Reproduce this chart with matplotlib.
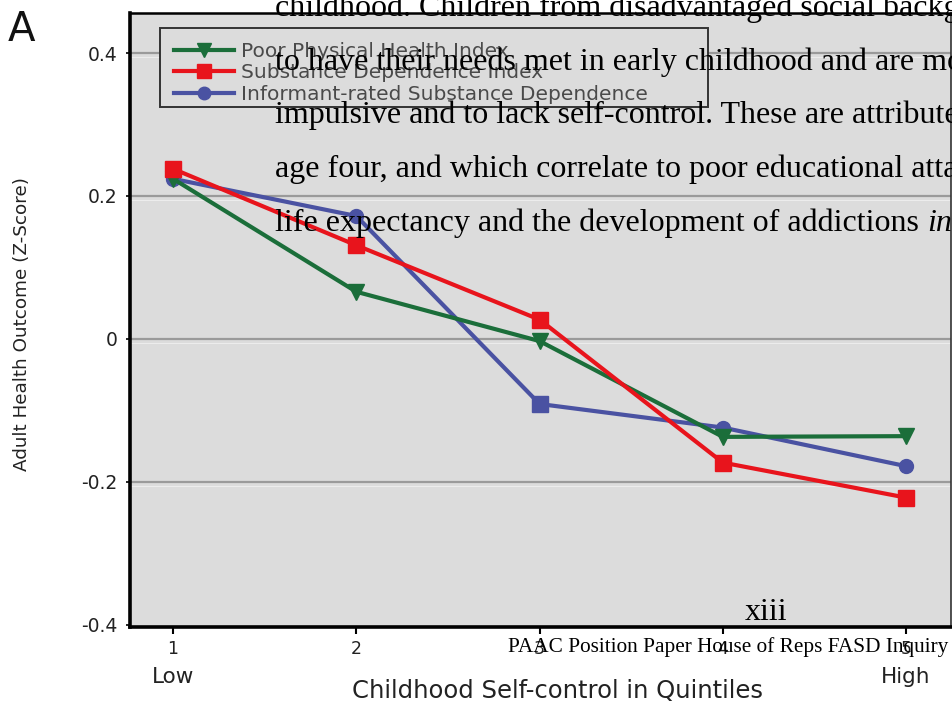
import matplotlib
matplotlib.use("Agg")
import matplotlib.pyplot as plt
from matplotlib.lines import Line2D
from matplotlib.patches import Rectangle

# Quintiles of childhood self-control
quintiles = [1, 2, 3, 4, 5]
quintile_ends = ["Low", "High"]

# Adult health outcomes (z-scores) per quintile
poor_physical_health = [0.224, 0.066, -0.003, -0.137, -0.136]
substance_dependence = [0.238, 0.131, 0.027, -0.173, -0.222]
informant_substance = [0.224, 0.172, -0.091, -0.124, -0.178]
informant_markers = ["o", "o", "s", "o", "o"]

series_labels = ["Poor Physical Health Index",
                 "Substance Dependence Index",
                 "Informant-rated Substance Dependence"]

y_ticks = [-0.4, -0.2, 0, 0.2, 0.4]
y_tick_labels = ["-0.4", "-0.2", "0", "0.2", "0.4"]

# Body text of the surrounding document page
page_lines = [
    "childhood. Children from disadvantaged social backgrounds",
    "to have their needs met in early childhood and are more",
    "impulsive and to lack self-control. These are attributes",
    "age four, and which correlate to poor educational attainment",
    "life expectancy and the development of addictions ",
]
page_italic_tail = "in"
page_number = "xiii"
page_footer = "PAAC Position Paper House of Reps FASD Inquiry"

GREEN = "#1b6e3a"
RED = "#e8141c"
BLUE = "#4a52a2"
BG = "#dcdcdc"
SANS = "DejaVu Sans"
SERIF = "Liberation Serif"
INK = "#222222"

W, H = 953, 705
fig = plt.figure(figsize=(W / 100, H / 100), dpi=100)
fig.patch.set_facecolor("white")

ax = fig.add_axes([130 / W, 1 - 627 / H, (951 - 130) / W, (627 - 13) / H])
ax.set_facecolor(BG)
ax.set_xlim(0.765, 5.245)
ax.set_ylim(-0.403, 0.456)

for yv in y_ticks[1:]:
    ax.axhline(yv, color="#9a9a9a", lw=1.6, zorder=1)
    ax.axhline(yv - 0.006, color="#ececec", lw=0.8, zorder=1)

lw = 3.0
ax.plot(quintiles, poor_physical_health, color=GREEN, lw=lw, marker="v",
        ms=11, zorder=3)
ax.plot(quintiles, substance_dependence, color=RED, lw=lw, marker="s",
        ms=11, zorder=4)
ax.plot(quintiles, informant_substance, color=BLUE, lw=lw, zorder=2)
for xq, yq, mk in zip(quintiles, informant_substance, informant_markers):
    ax.plot([xq], [yq], color=BLUE, marker=mk, ms=10 if mk == "o" else 11,
            ls="none", zorder=2)

ax.set_xticks(quintiles)
ax.set_xticklabels([str(q) for q in quintiles], fontfamily=SANS,
                   fontsize=12.5, color=INK)
ax.set_yticks(y_ticks)
ax.set_yticklabels(y_tick_labels, fontfamily=SANS, fontsize=13.5, color=INK)
ax.tick_params(axis="x", direction="out", length=5, width=1.5, pad=4)
ax.tick_params(axis="y", direction="out", length=3, width=1.2, pad=6)

for side in ["left", "bottom"]:
    ax.spines[side].set_linewidth(2.6)
    ax.spines[side].set_color("black")
ax.spines["top"].set_linewidth(1.8)
ax.spines["top"].set_color("black")
ax.spines["right"].set_linewidth(1.2)
ax.spines["right"].set_color("#333333")

for q, lab in zip([quintiles[0], quintiles[-1]], quintile_ends):
    ax.text(q, -0.082, lab, transform=ax.get_xaxis_transform(),
            ha="center", va="center", fontfamily=SANS, fontsize=15.5,
            color=INK)

fig.text(558 / W, 1 - 691 / H, "Childhood Self-control in Quintiles",
         ha="center", va="center", fontfamily=SANS, fontsize=17.5, color=INK)
fig.text(22 / W, 1 - 324 / H, "Adult Health Outcome (Z-Score)",
         ha="center", va="center", rotation=90, fontfamily=SANS,
         fontsize=13.2, color=INK)
fig.text(8 / W, 1 - 30 / H, "A", ha="left", va="center", fontfamily=SANS,
         fontsize=29, color="#111111")

# Legend box and entries
ax.add_patch(Rectangle((160 / W, 1 - 107 / H), (708 - 160) / W, (107 - 28) / H,
                       transform=fig.transFigure, facecolor=BG,
                       edgecolor="#333333", lw=1.4, zorder=5, clip_on=False))
handles = [
    Line2D([], [], color=GREEN, lw=lw, marker="v", ms=10),
    Line2D([], [], color=RED, lw=lw, marker="s", ms=10),
    Line2D([], [], color=BLUE, lw=lw, marker="o", ms=9),
]
leg = ax.legend(handles, series_labels, loc="upper left",
                bbox_to_anchor=(174 / W, 1 - 42 / H),
                bbox_transform=fig.transFigure,
                prop={"family": SANS, "size": 14.5},
                handlelength=3.0, handletextpad=0.35, labelspacing=0.12,
                borderpad=0, borderaxespad=0, frameon=False)
for t in leg.get_texts():
    t.set_color("#4a4a4a")
leg.set_zorder(6)

# Page text printed over the figure
baselines = [16, 70, 123, 177, 231]
for line, yb in zip(page_lines, baselines):
    fig.text(275 / W, 1 - yb / H, line, ha="left", va="baseline",
             fontfamily=SERIF, fontsize=23, color="black", zorder=10)
fig.canvas.draw()
bb = fig.texts[-1].get_window_extent()
fig.text(bb.x1 / W, 1 - baselines[-1] / H, page_italic_tail, ha="left",
         va="baseline", fontfamily=SERIF, fontstyle="italic", fontsize=23,
         color="black", zorder=10)

fig.text(745 / W, 1 - 620 / H, page_number, ha="left", va="baseline",
         fontfamily=SERIF, fontsize=23, color="black", zorder=10)
fig.text(508 / W, 1 - 652 / H, page_footer, ha="left", va="baseline",
         fontfamily=SERIF, fontsize=15.3, color="black", zorder=10)

fig.savefig("out.png", dpi=100)
